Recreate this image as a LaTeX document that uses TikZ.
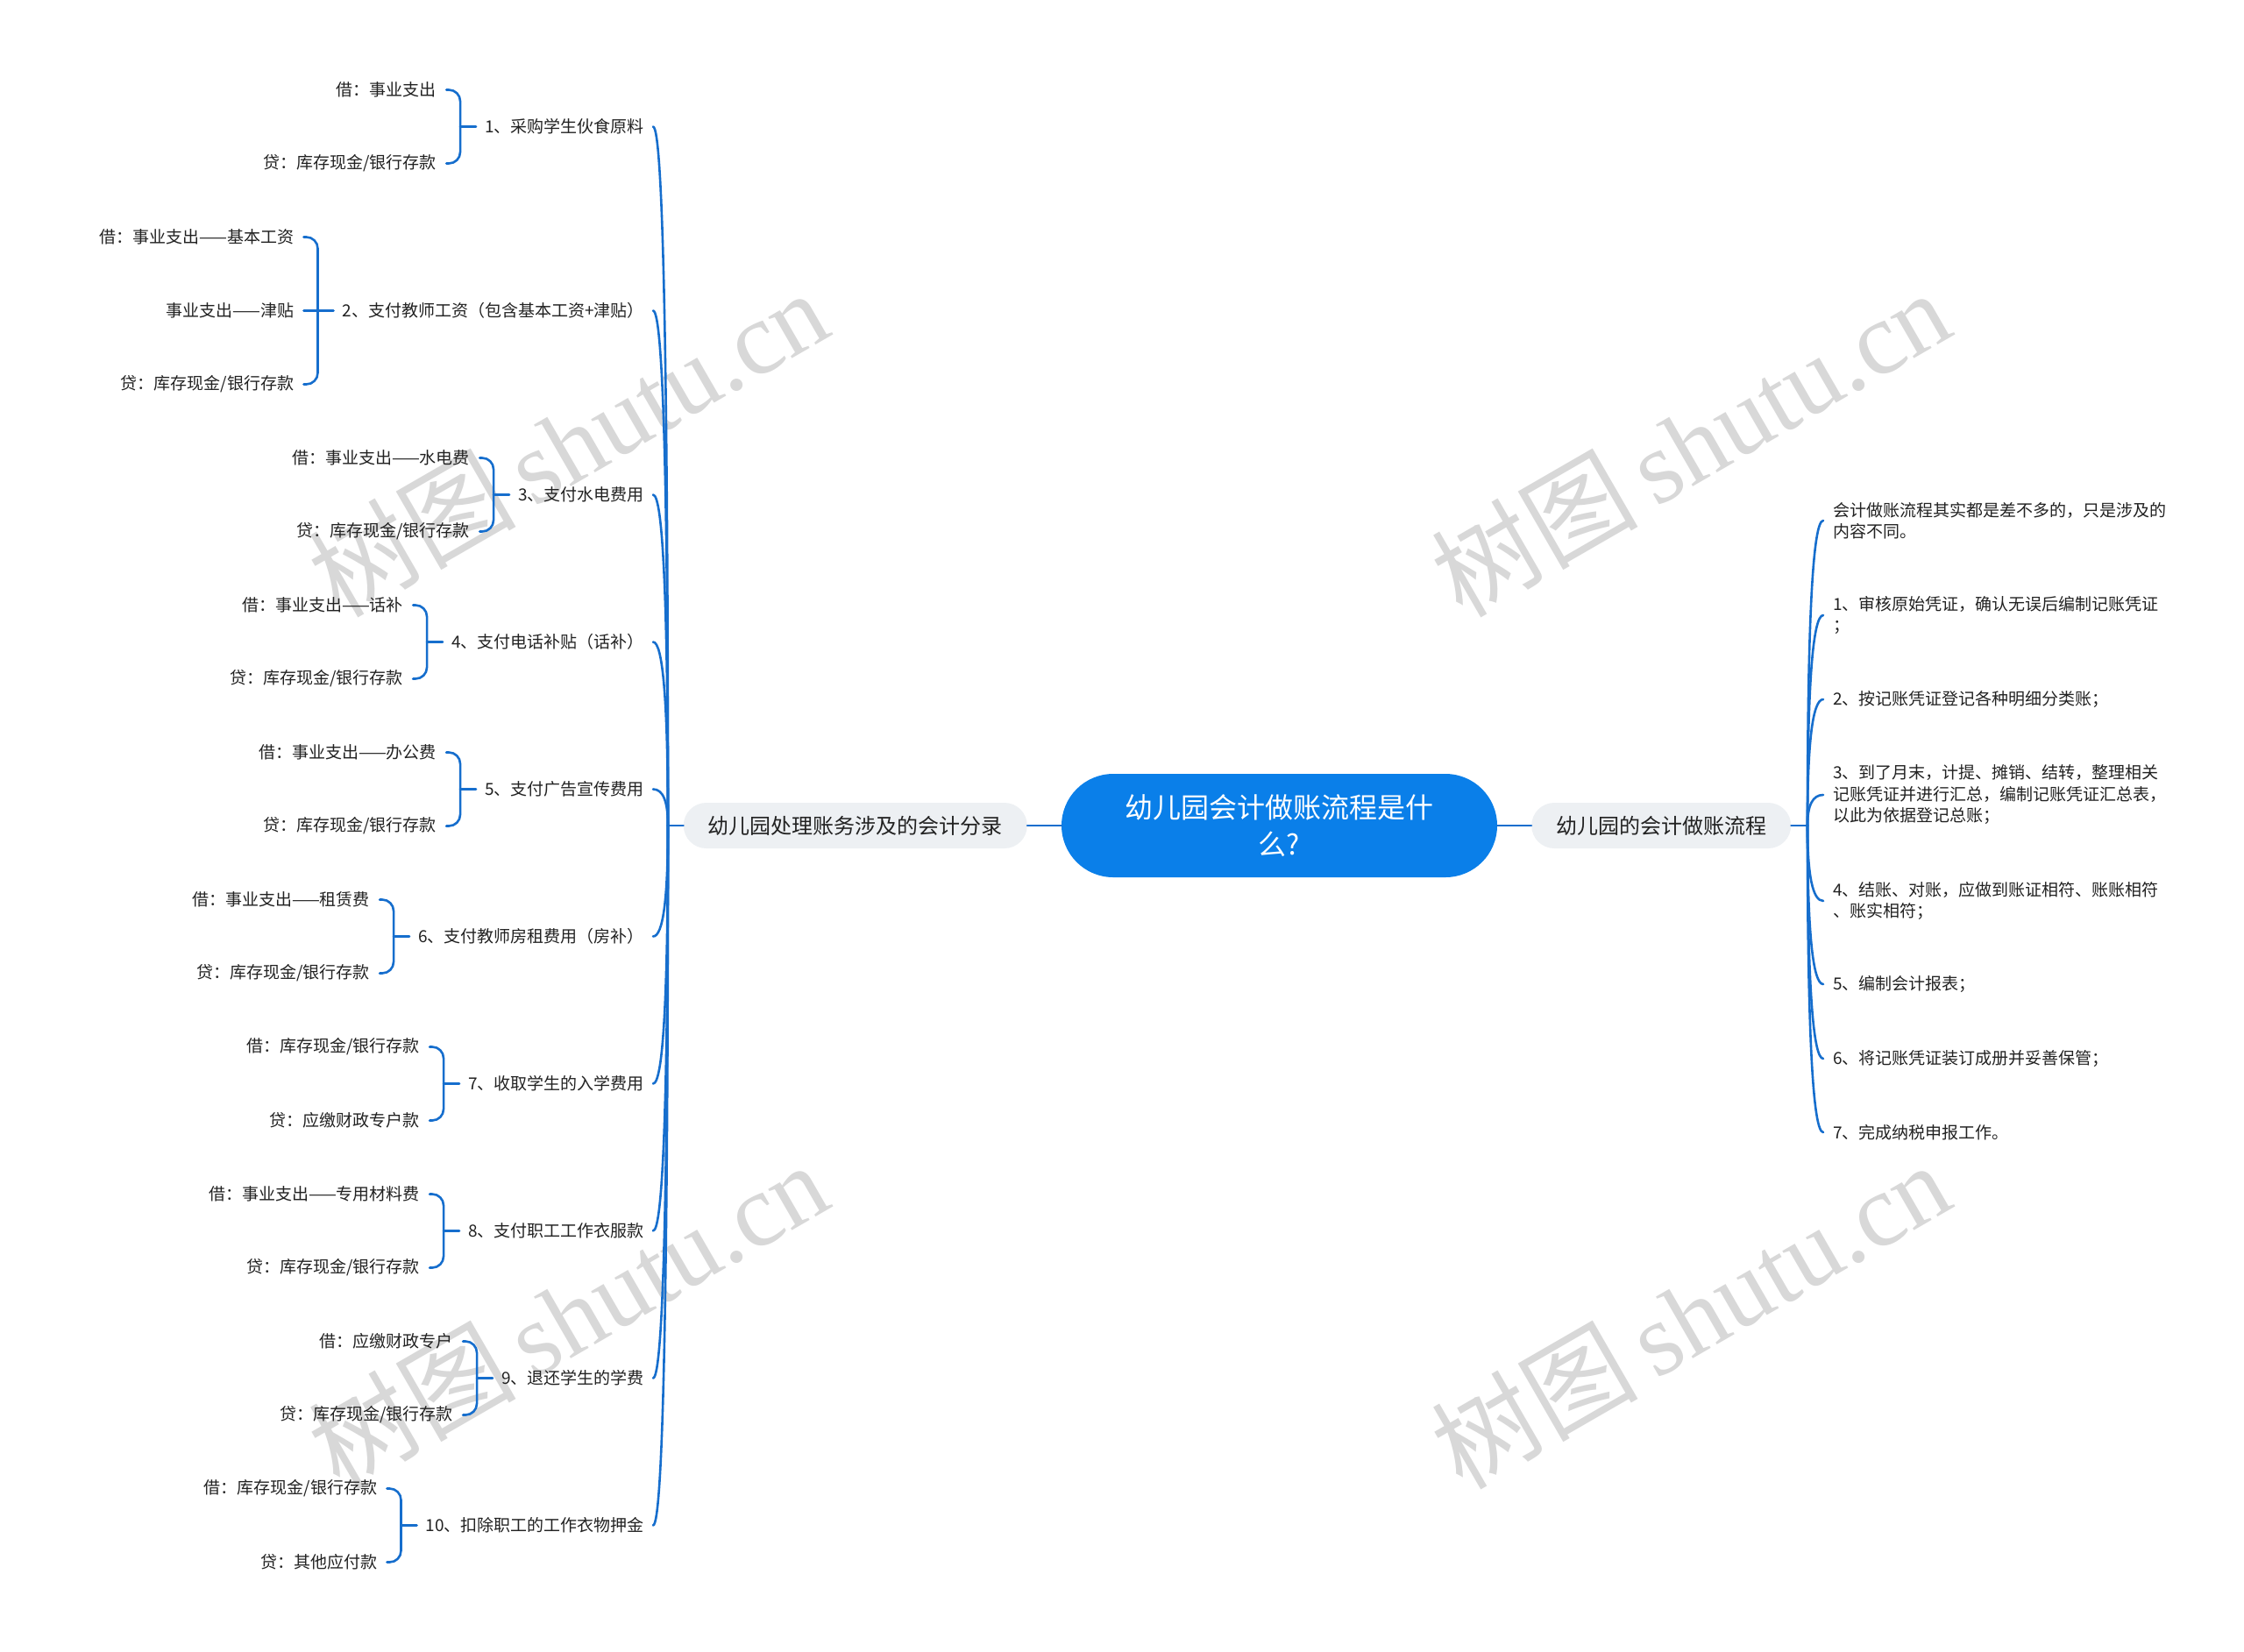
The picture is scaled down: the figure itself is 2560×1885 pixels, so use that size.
\documentclass[tikz,border=0pt]{standalone}
\usepackage{fontspec}
\setmainfont{Noto Sans CJK SC}
\newfontfamily\wmserif{Liberation Serif}
\usetikzlibrary{calc}
\definecolor{mainblue}{RGB}{10,127,233}
\definecolor{linkblue}{RGB}{22,110,205}
\definecolor{branchgray}{RGB}{237,240,243}
\definecolor{txt}{RGB}{34,34,34}
\definecolor{wm}{RGB}{216,216,216}
\tikzset{
  conn/.style={draw=linkblue, line width=2.6pt, line cap=round},
  rootnode/.style={fill=mainblue, text=white, rounded corners=59pt, minimum width=497pt, minimum height=118pt, align=center, font=\fontsize{32pt}{42pt}\selectfont, inner sep=0pt},
  branchnode/.style={fill=branchgray, text=txt, rounded corners=26pt, minimum height=52pt, inner xsep=28pt, inner ysep=0pt, font=\fontsize{24pt}{30pt}\selectfont},
  itemnode/.style={text=txt, inner xsep=10pt, inner ysep=2pt, font=\fontsize{19pt}{24.5pt}\selectfont},
  leafnode/.style={text=txt, inner xsep=11pt, inner ysep=2pt, font=\fontsize{19pt}{24.5pt}\selectfont},
  rightnode/.style={text=txt, inner xsep=11pt, inner ysep=2pt, align=left, font=\fontsize{19pt}{24.5pt}\selectfont},
  wmark/.style={text=wm, rotate=30, inner sep=0pt}
}
\newcommand{\mkitem}[3]{%
  \node[itemnode, anchor=east] (#1) at (745,#2) {#3};
  \coordinate (#1b) at ($(#1.west)+(-18,0)$);
  \coordinate (#1k) at (JL|-#1.east);
  \draw[conn] (JL) .. controls ($(JL)!0.667!(#1k)$) and ($(#1.east)!0.667!(#1k)$) .. (#1.east);
  \draw[conn] (#1b) -- (#1.west);
}
\newcommand{\mkpair}[4]{%
  \node[leafnode, anchor=east] (#1u) at ($(#1b)+(-16,-#2)$) {#3};
  \node[leafnode, anchor=east] (#1d) at ($(#1b)+(-16,#2)$) {#4};
  \draw[conn, rounded corners=13pt] (#1u.east) -| (#1b) |- (#1d.east);
}
\newcommand{\mkright}[3]{%
  \node[rightnode, anchor=west] (#1) at (2080,#2) {#3};
  \coordinate (#1k) at (JR|-#1.west);
  \draw[conn] (JR) .. controls ($(JR)!0.667!(#1k)$) and ($(#1.west)!0.667!(#1k)$) .. (#1.west);
}
\begin{document}
\begin{tikzpicture}[x=1pt,y=-1pt]
\fill[white] (0,0) rectangle (2560,1885);
\useasboundingbox (0,0) rectangle (2560,1885);
% watermarks
\foreach \wx/\wy/\wn in {648/505/wa, 1928/505/wb, 648/1500/wc, 1928/1500/wd}{
  \node[wmark] (\wn) at (\wx,\wy) {\fontsize{118pt}{126pt}\selectfont 树图\,{\wmserif shutu.cn}};
}
% root and branches
\node[rootnode] (root) at (1459.5,942) {幼儿园会计做账流程是什\\么?};
\node[branchnode, anchor=east] (ML) at (1172,942) {幼儿园处理账务涉及的会计分录};
\node[branchnode, anchor=west] (MR) at (1747,942) {幼儿园的会计做账流程};
\draw[conn] (root.west) -- (ML.east);
\draw[conn] (root.east) -- (MR.west);
\coordinate (JL) at (762,942);
\coordinate (JR) at (2062,942);
\draw[conn] (ML.west) -- (JL);
\draw[conn] (MR.east) -- (JR);
% left items
\mkitem{La}{144.5}{1、采购学生伙食原料}
\mkpair{La}{42}{借：事业支出}{贷：库存现金/银行存款}
\mkitem{Lb}{354.5}{2、支付教师工资（包含基本工资+津贴）}
\mkpair{Lb}{84}{借：事业支出——基本工资}{贷：库存现金/银行存款}
\node[leafnode, anchor=east] (Lbm) at ($(Lbb)+(-16,0)$) {事业支出——津贴};
\draw[conn] (Lbm.east) -- (Lbb);
\mkitem{Lc}{564.5}{3、支付水电费用}
\mkpair{Lc}{42}{借：事业支出——水电费}{贷：库存现金/银行存款}
\mkitem{Ld}{732.5}{4、支付电话补贴（话补）}
\mkpair{Ld}{42}{借：事业支出——话补}{贷：库存现金/银行存款}
\mkitem{Le}{900.5}{5、支付广告宣传费用}
\mkpair{Le}{42}{借：事业支出——办公费}{贷：库存现金/银行存款}
\mkitem{Lf}{1068.5}{6、支付教师房租费用（房补）}
\mkpair{Lf}{42}{借：事业支出——租赁费}{贷：库存现金/银行存款}
\mkitem{Lg}{1236.5}{7、收取学生的入学费用}
\mkpair{Lg}{42}{借：库存现金/银行存款}{贷：应缴财政专户款}
\mkitem{Lh}{1404.5}{8、支付职工工作衣服款}
\mkpair{Lh}{42}{借：事业支出——专用材料费}{贷：库存现金/银行存款}
\mkitem{Li}{1572.5}{9、退还学生的学费}
\mkpair{Li}{42}{借：应缴财政专户}{贷：库存现金/银行存款}
\mkitem{Lj}{1740.5}{10、扣除职工的工作衣物押金}
\mkpair{Lj}{42}{借：库存现金/银行存款}{贷：其他应付款}
% right items
\mkright{Ra}{594}{会计做账流程其实都是差不多的，只是涉及的\\内容不同。}
\mkright{Rb}{702}{1、审核原始凭证，确认无误后编制记账凭证\\；}
\mkright{Rc}{798}{2、按记账凭证登记各种明细分类账；}
\mkright{Rd}{907}{3、到了月末，计提、摊销、结转，整理相关\\记账凭证并进行汇总，编制记账凭证汇总表，\\以此为依据登记总账；}
\mkright{Re}{1028}{4、结账、对账，应做到账证相符、账账相符\\、账实相符；}
\mkright{Rf}{1123}{5、编制会计报表；}
\mkright{Rg}{1208}{6、将记账凭证装订成册并妥善保管；}
\mkright{Rh}{1292}{7、完成纳税申报工作。}
\end{tikzpicture}
\end{document}
